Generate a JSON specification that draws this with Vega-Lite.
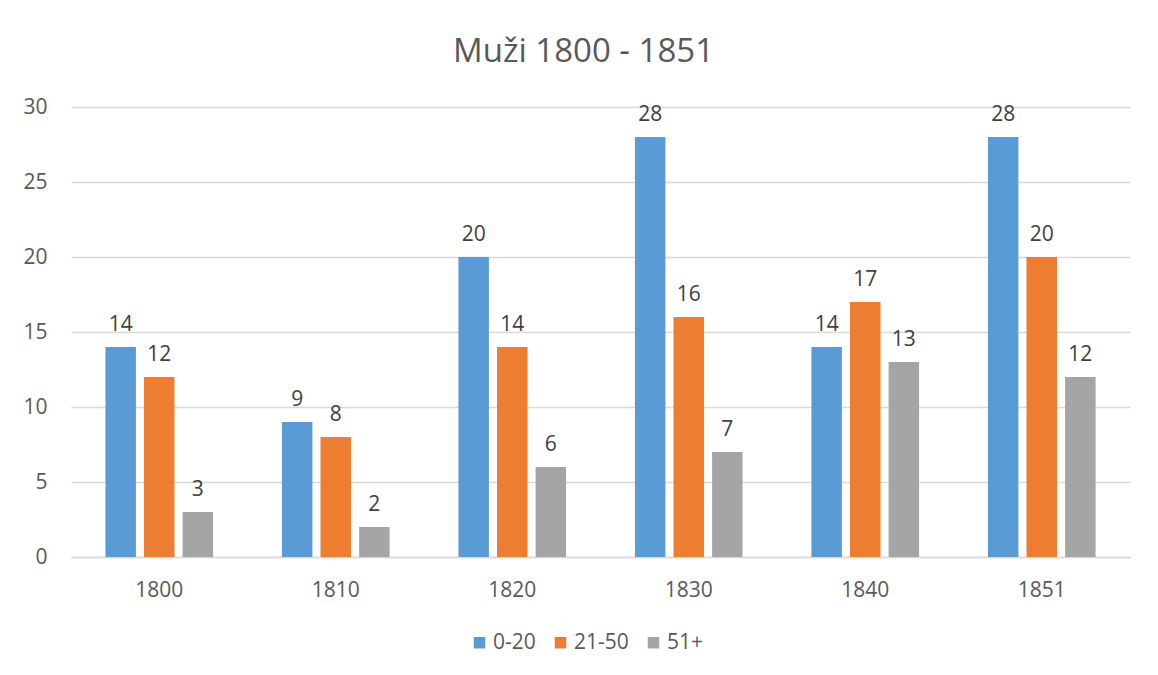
{
  "$schema": "https://vega.github.io/schema/vega-lite/v6.json",
  "width": 1059,
  "height": 450,
  "autosize": {"type": "none"},
  "padding": {"left": 71, "top": 107, "right": 28, "bottom": 118},
  "background": "white",
  "title": {
    "text": "Muži 1800 - 1851",
    "font": "Open Sans",
    "fontSize": 33,
    "fontWeight": "normal",
    "color": "#595959",
    "anchor": "middle",
    "frame": "group",
    "dx": -17,
    "offset": 27
  },
  "config": {
    "font": "Open Sans",
    "view": {"stroke": null}
  },
  "data": {
    "values": [
      {"year": "1800", "group": "0-20", "value": 14},
      {"year": "1800", "group": "21-50", "value": 12},
      {"year": "1800", "group": "51+", "value": 3},
      {"year": "1810", "group": "0-20", "value": 9},
      {"year": "1810", "group": "21-50", "value": 8},
      {"year": "1810", "group": "51+", "value": 2},
      {"year": "1820", "group": "0-20", "value": 20},
      {"year": "1820", "group": "21-50", "value": 14},
      {"year": "1820", "group": "51+", "value": 6},
      {"year": "1830", "group": "0-20", "value": 28},
      {"year": "1830", "group": "21-50", "value": 16},
      {"year": "1830", "group": "51+", "value": 7},
      {"year": "1840", "group": "0-20", "value": 14},
      {"year": "1840", "group": "21-50", "value": 17},
      {"year": "1840", "group": "51+", "value": 13},
      {"year": "1851", "group": "0-20", "value": 28},
      {"year": "1851", "group": "21-50", "value": 20},
      {"year": "1851", "group": "51+", "value": 12}
    ]
  },
  "encoding": {
    "x": {
      "field": "year",
      "type": "nominal",
      "scale": {"paddingInner": 0.39, "paddingOuter": 0.195},
      "axis": {
        "title": null,
        "labelAngle": 0,
        "labelFontSize": 21,
        "labelColor": "#595959",
        "labelPadding": 22,
        "ticks": false,
        "domainColor": "#D9D9D9",
        "domainWidth": 1.5
      }
    },
    "xOffset": {
      "field": "group",
      "type": "nominal",
      "scale": {"paddingInner": 0.21, "paddingOuter": 0}
    },
    "y": {
      "field": "value",
      "type": "quantitative",
      "scale": {"domain": [0, 30], "nice": false},
      "axis": {
        "title": null,
        "values": [0, 5, 10, 15, 20, 25, 30],
        "labelFontSize": 21,
        "labelColor": "#595959",
        "labelPadding": 24,
        "ticks": false,
        "domain": false,
        "gridColor": "#D9D9D9",
        "gridWidth": 1.5
      }
    }
  },
  "layer": [
    {
      "mark": {"type": "bar"},
      "encoding": {
        "color": {
          "field": "group",
          "type": "nominal",
          "scale": {"domain": ["0-20", "21-50", "51+"], "range": ["#5B9BD5", "#ED7D31", "#A5A5A5"]},
          "legend": {
            "title": null,
            "orient": "none",
            "legendX": 398,
            "legendY": 525,
            "direction": "horizontal",
            "symbolType": "square",
            "symbolSize": 132,
            "symbolStrokeWidth": 0,
            "labelFontSize": 21,
            "labelColor": "#595959",
            "labelOffset": 3,
            "columnPadding": 14
          }
        }
      }
    },
    {
      "mark": {"type": "text", "baseline": "bottom", "dy": -12, "fontSize": 21, "color": "#404040"},
      "encoding": {
        "text": {"field": "value", "type": "quantitative"}
      }
    }
  ]
}
